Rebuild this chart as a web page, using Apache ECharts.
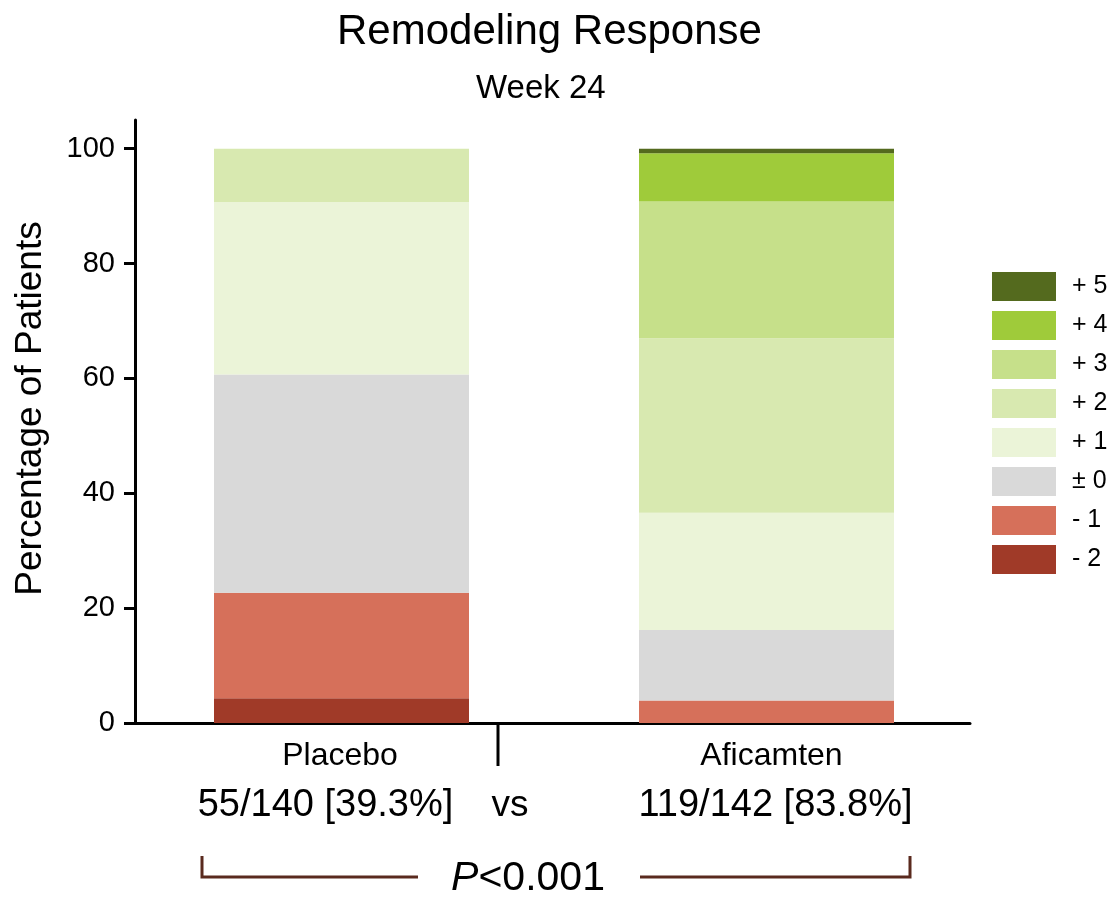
<!DOCTYPE html>
<html>
<head>
<meta charset="utf-8">
<script src="https://cdn.jsdelivr.net/npm/echarts@6/dist/echarts.min.js"></script>
<style>
  html, body { margin: 0; padding: 0; background: #fff; }
  #chart { width: 1110px; height: 897px; }
</style>
</head>
<body>
<div id="chart"></div>
<script>
// categories and counts under each bar
const categories = ["Placebo", "Aficamten"];
const responders = ["55/140 [39.3%]", "119/142 [83.8%]"];
// response levels, bottom of the stack first
const levels = ["- 2", "- 1", "± 0", "+ 1", "+ 2", "+ 3", "+ 4", "+ 5"];
// percentage of patients per level
const placebo = [4.3, 18.4, 38.0, 30.0, 9.3, 0, 0, 0];
const aficamten = [0, 3.9, 12.3, 20.4, 30.4, 23.8, 8.4, 0.8];
const yTicks = [0, 20, 40, 60, 80, 100];

const colors = ["#a03a28", "#d6705a", "#d9d9d9", "#ebf4d8", "#d8e9b0", "#c6e08a", "#9fcb3a", "#546a1e"];
const font = "'Liberation Sans', Arial, sans-serif";

const myChart = echarts.init(document.getElementById("chart"));

const option = {
  animation: false,
  textStyle: { fontFamily: font, color: "#000" },
  title: [
    { text: "Remodeling Response", left: 337, top: 11, padding: 0,
      textStyle: { fontSize: 42, fontWeight: "normal", color: "#000", fontFamily: font } },
    { text: "Week 24", left: 476, top: 72, padding: 0,
      textStyle: { fontSize: 33, fontWeight: "normal", color: "#000", fontFamily: font } },
  ],
  legend: {
    orient: "vertical",
    left: 992,
    top: 272,
    padding: 0,
    itemWidth: 64,
    itemHeight: 29,
    itemGap: 10,
    icon: "rect",
    selectedMode: false,
    data: levels.slice().reverse(),
    textStyle: { fontSize: 25, color: "#000", padding: [0, 0, 0, 11] },
  },
  grid: [
    { left: 129, width: 850, top: 120, height: 603 },
    { left: 135, width: 835, top: 120, height: 603 },
  ],
  xAxis: [
    {
      type: "category",
      gridIndex: 0,
      data: categories,
      axisLine: { show: false },
      axisTick: { show: false },
      axisLabel: {
        margin: 8,
        // nudge each text line a little to sit where the reference has it
        formatter: (v, i) => "{a" + i + "|" + v + "}\n{b" + i + "|" + responders[i] + "}",
        rich: {
          a0: { fontSize: 32, lineHeight: 50, color: "#000", fontFamily: font, padding: [0, 3, 0, 0] },
          a1: { fontSize: 32, lineHeight: 50, color: "#000", fontFamily: font, padding: [0, 0, 0, 10] },
          b0: { fontSize: 38, lineHeight: 50, color: "#000", fontFamily: font, padding: [0, 32, 0, 0] },
          b1: { fontSize: 38, lineHeight: 50, color: "#000", fontFamily: font, padding: [0, 0, 0, 18] },
        },
      },
    },
    {
      type: "value",
      gridIndex: 1,
      min: 0,
      max: 1,
      axisLine: { show: true, lineStyle: { color: "#000", width: 3 } },
      axisTick: { show: false },
      axisLabel: { show: false },
      splitLine: { show: false },
    },
  ],
  yAxis: [
    { type: "value", gridIndex: 0, min: 0, max: 105, show: false },
    {
      type: "value",
      gridIndex: 1,
      min: 0,
      max: 105,
      axisLine: { show: true, lineStyle: { color: "#000", width: 3 } },
      axisTick: { show: true, length: 11, customValues: yTicks, lineStyle: { color: "#000", width: 3 } },
      axisLabel: { customValues: yTicks, fontSize: 29, color: "#000", margin: 20 },
      splitLine: { show: false },
      name: "Percentage of Patients",
      nameLocation: "middle",
      nameGap: 86,
      nameTextStyle: { fontSize: 37, color: "#000", padding: [0, 0, 0, 26] },
    },
  ],
  series: levels.map((name, i) => ({
    name: name,
    type: "bar",
    stack: "total",
    xAxisIndex: 0,
    yAxisIndex: 0,
    barWidth: 255,
    data: [placebo[i], aficamten[i]],
    itemStyle: { color: colors[i] },
  })),
  graphic: [
    { type: "line", shape: { x1: 498, y1: 725, x2: 498, y2: 766 }, style: { stroke: "#000", lineWidth: 3 } },
    { type: "text", x: 510, y: 806,
      style: { text: "vs", fontSize: 37, fontFamily: font, fill: "#000", align: "center", verticalAlign: "middle" } },
    { type: "polyline", shape: { points: [[202, 856], [202, 877], [418, 877]] },
      style: { stroke: "#5a2a1e", lineWidth: 3, fill: null } },
    { type: "polyline", shape: { points: [[640, 877], [910, 877], [910, 856]] },
      style: { stroke: "#5a2a1e", lineWidth: 3, fill: null } },
    { type: "text", x: 528, y: 879,
      style: {
        text: "{i|P}{n|<0.001}",
        align: "center",
        verticalAlign: "middle",
        fill: "#000",
        fontSize: 41,
        fontFamily: font,
        rich: {
          i: { fontSize: 41, fontStyle: "italic", fontFamily: font, fill: "#000" },
          n: { fontSize: 41, fontFamily: font, fill: "#000" },
        },
      } },
  ],
};

myChart.setOption(option);
</script>
</body>
</html>
